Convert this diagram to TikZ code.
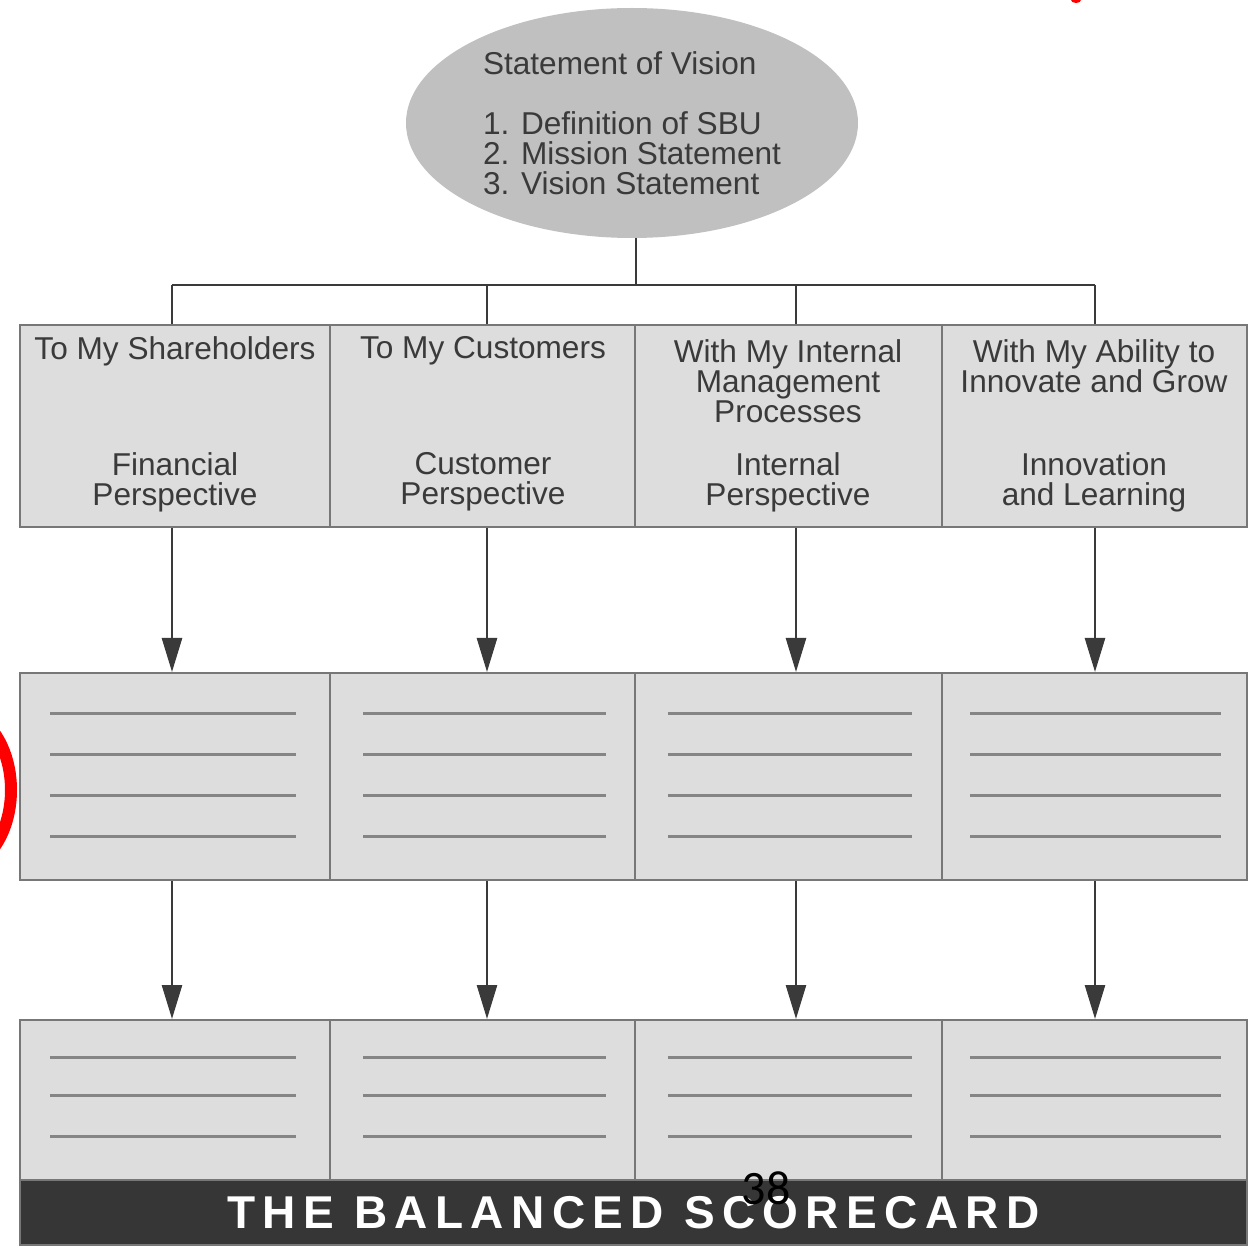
\documentclass[tikz,border=0pt]{standalone}
\usepackage{fontspec}
\setmainfont{Liberation Sans}
\newfontfamily\pagefont{Carlito}
\usepackage{xcolor}
\usepackage{tikz}
\usetikzlibrary{positioning}
\usetikzlibrary{arrows.meta}
\usetikzlibrary{shapes.geometric}

\definecolor{cellgray}{HTML}{DDDDDD}
\definecolor{edgegray}{HTML}{777777}
\definecolor{ovalgray}{HTML}{C0C0C0}
\definecolor{inkgray}{HTML}{3A3A3A}
\definecolor{bargray}{HTML}{363636}
\definecolor{rulegray}{HTML}{858585}

\tikzset{
  cell/.style={draw=edgegray, line width=1pt, fill=cellgray, inner sep=0pt},
  toprow/.style={cell, minimum height=101pt},
  midrow/.style={cell, minimum height=103.5pt},
  lowrow/.style={cell, minimum height=80pt},
  celltext/.style={text=inkgray, font=\fontsize{15.8}{15}\selectfont, align=center, inner sep=0pt},
  feed/.style={draw=inkgray, line width=1.3pt, -{Triangle[length=17pt,width=10pt]}},
  tree/.style={draw=inkgray, line width=1.3pt},
  rules/.style={draw=rulegray, line width=1.5pt},
}

\begin{document}
\begin{tikzpicture}[x=0.5pt,y=-0.5pt]

		\useasboundingbox (0,0) rectangle (1255,1246);

		% Vision oval
		\node[ellipse, fill=ovalgray, minimum width=226pt, minimum height=115pt,
		      text=inkgray, font=\fontsize{15.8}{15}\selectfont, align=left]
		      (vision) at (632,123)
		      {Statement of Vision\\[15pt]1. Definition of SBU\\2. Mission Statement\\3. Vision Statement};

		% Four perspectives (top row)
		\node[toprow, minimum width=155pt]   (tShare) at (175,426) {};
		\node[toprow, minimum width=152.5pt] (tCust)  at (482.5,426) {};
		\node[toprow, minimum width=153.5pt] (tInt)   at (788.5,426) {};
		\node[toprow, minimum width=152.5pt] (tInno)  at (1094.5,426) {};

		\node[celltext] (headShare) at (175,351) {To My Shareholders};
		\node[celltext] (headCust)  at (483,351) {To My Customers};
		\node[celltext] (headInt)   at (788,381) {With My Internal\\Management\\Processes};
		\node[celltext] (headInno)  at (1094,366) {With My Ability to\\Innovate and Grow};

		\node[celltext] (perspShare) at (175,482) {Financial\\Perspective};
		\node[celltext] (perspCust)  at (483,482) {Customer\\Perspective};
		\node[celltext] (perspInt)   at (788,482) {Internal\\Perspective};
		\node[celltext] (perspInno)  at (1094,482) {Innovation\\and Learning};

		% Middle row
		\node[midrow, minimum width=155pt]   (mShare) at (175,776.5) {};
		\node[midrow, minimum width=152.5pt] (mCust)  at (482.5,776.5) {};
		\node[midrow, minimum width=153.5pt] (mInt)   at (788.5,776.5) {};
		\node[midrow, minimum width=152.5pt] (mInno)  at (1094.5,776.5) {};

		% Bottom row and banner
		\node[lowrow, minimum width=155pt]   (bShare) at (175,1100) {};
		\node[lowrow, minimum width=152.5pt] (bCust)  at (482.5,1100) {};
		\node[lowrow, minimum width=153.5pt] (bInt)   at (788.5,1100) {};
		\node[lowrow, minimum width=152.5pt] (bInno)  at (1094.5,1100) {};

		\node[fill=bargray, draw=edgegray, line width=1pt, minimum width=613.5pt, minimum height=32.5pt,
		      text=white, font=\fontsize{23}{23}\selectfont\bfseries\addfontfeatures{LetterSpace=16}]
		      (banner) at (633.5,1212.5) {THE BALANCED SCORECARD};

		% Column lines
		\coordinate (colShare) at (172,0);
		\coordinate (colCust)  at (487,0);
		\coordinate (colInt)   at (796,0);
		\coordinate (colInno)  at (1095,0);

		% Tree from the oval to the four boxes
		\coordinate (fork) at (636,285);
		\draw[tree] (vision.south -| fork) -- (fork);
		\draw[tree] (fork -| colShare) -- (fork -| colInno);
		\draw[tree] (fork -| colShare) -- (tShare.north -| colShare);
		\draw[tree] (fork -| colCust) -- (tCust.north -| colCust);
		\draw[tree] (fork -| colInt) -- (tInt.north -| colInt);
		\draw[tree] (fork -| colInno) -- (tInno.north -| colInno);

		% Arrows down the columns
		\draw[feed] (tShare.south -| colShare) -- (mShare.north -| colShare);
		\draw[feed] (tCust.south -| colCust) -- (mCust.north -| colCust);
		\draw[feed] (tInt.south -| colInt) -- (mInt.north -| colInt);
		\draw[feed] (tInno.south -| colInno) -- (mInno.north -| colInno);

		\draw[feed] (mShare.south -| colShare) -- (bShare.north -| colShare);
		\draw[feed] (mCust.south -| colCust) -- (bCust.north -| colCust);
		\draw[feed] (mInt.south -| colInt) -- (bInt.north -| colInt);
		\draw[feed] (mInno.south -| colInno) -- (bInno.north -| colInno);

		% Blank lines to fill in
		\draw[rules] (50,713) -- (296,713) (50,754) -- (296,754) (50,795) -- (296,795) (50,836) -- (296,836);
		\draw[rules] (363,713) -- (606,713) (363,754) -- (606,754) (363,795) -- (606,795) (363,836) -- (606,836);
		\draw[rules] (668,713) -- (912,713) (668,754) -- (912,754) (668,795) -- (912,795) (668,836) -- (912,836);
		\draw[rules] (970,713) -- (1221,713) (970,754) -- (1221,754) (970,795) -- (1221,795) (970,836) -- (1221,836);

		\draw[rules] (50,1057) -- (296,1057) (50,1095) -- (296,1095) (50,1136) -- (296,1136);
		\draw[rules] (363,1057) -- (606,1057) (363,1095) -- (606,1095) (363,1136) -- (606,1136);
		\draw[rules] (668,1057) -- (912,1057) (668,1095) -- (912,1095) (668,1136) -- (912,1136);
		\draw[rules] (970,1057) -- (1221,1057) (970,1095) -- (1221,1095) (970,1136) -- (1221,1136);

		% Page number and red marks
		\node[font=\pagefont\fontsize{24}{24}\selectfont, inner sep=0pt] (pagenum) at (766,1188) {38};
		\draw[red, line width=6pt] (-45,790) ellipse [x radius=56, y radius=80];
		\fill[red] (1076,0) ellipse [x radius=5, y radius=3];

	\end{tikzpicture}
\end{document}
